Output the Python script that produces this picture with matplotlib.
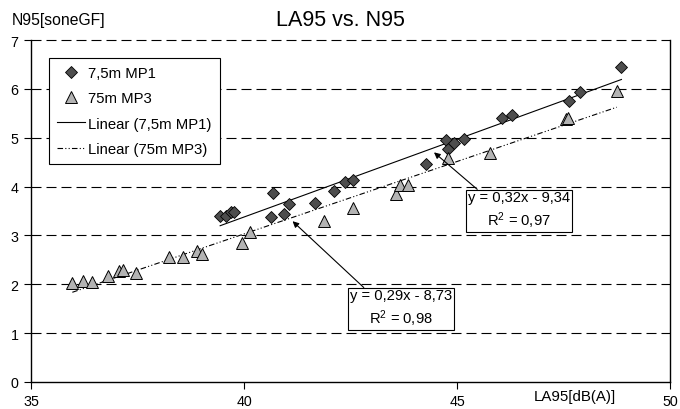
import numpy as np
import matplotlib
matplotlib.use('Agg')
import matplotlib.pyplot as plt

plt.rcParams['font.family'] = ['Liberation Sans', 'DejaVu Sans']
plt.rcParams['font.size'] = 10
plt.rcParams['mathtext.fontset'] = 'custom'
plt.rcParams['mathtext.rm'] = 'Liberation Sans'
plt.rcParams['mathtext.it'] = 'Liberation Sans:italic'

# 7,5m MP1 (diamonds)
mp1_x = [39.44, 39.58, 39.70, 39.76, 40.64, 40.69, 40.95, 41.05, 41.67, 42.12, 42.37,
         42.57, 44.27, 44.75, 44.79, 44.93, 45.16, 46.05, 46.30, 47.62, 47.89, 48.86]
mp1_y = [3.40, 3.40, 3.47, 3.47, 3.37, 3.86, 3.44, 3.64, 3.67, 3.90, 4.10,
         4.13, 4.47, 4.95, 4.76, 4.90, 4.97, 5.40, 5.46, 5.75, 5.94, 6.44]

# 75m MP3 (triangles)
mp3_x = [35.97, 36.21, 36.44, 36.81, 37.07, 37.15, 37.46, 38.23, 38.57, 38.90, 39.02, 39.96,
         40.15, 41.88, 42.56, 43.56, 43.66, 43.85, 44.80, 45.77, 47.55, 47.60, 48.75]
mp3_y = [2.02, 2.06, 2.04, 2.16, 2.28, 2.29, 2.22, 2.56, 2.56, 2.69, 2.62, 2.84,
         3.06, 3.30, 3.56, 3.85, 4.03, 4.04, 4.59, 4.68, 5.38, 5.40, 5.96]

eq_mp1 = 'y = 0,32x - 9,34\nR$^{2}$ = 0,97'
eq_mp3 = 'y = 0,29x - 8,73\nR$^{2}$ = 0,98'

fig = plt.figure(figsize=(6.8, 4.1), dpi=100)
ax = fig.add_axes([0.0456, 0.066, 0.9397, 0.834])

# dashed horizontal grid
for yy in range(1, 8):
    ax.axhline(yy, color='black', lw=0.8, ls=(0, (9, 4.5)), clip_on=False, zorder=1)

ax.plot(mp1_x, mp1_y, 'D', ms=6.5, mfc='#4d4d4d', mec='black', mew=0.6, zorder=3,
        label='7,5m MP1')
ax.plot(mp3_x, mp3_y, '^', ms=8.5, mfc='#b3b3b3', mec='black', mew=0.7, zorder=3,
        label='75m MP3')

# linear trendlines (least squares)
p1 = np.polyfit(mp1_x, mp1_y, 1)
xx1 = np.array([min(mp1_x), max(mp1_x)])
ax.plot(xx1, np.polyval(p1, xx1), color='black', lw=0.8, zorder=2,
        label='Linear (7,5m MP1)')
p3 = np.polyfit(mp3_x, mp3_y, 1)
xx3 = np.array([min(mp3_x), max(mp3_x)])
ax.plot(xx3, np.polyval(p3, xx3), color='black', lw=0.8, zorder=2,
        ls=(0, (5, 2, 1, 2, 1, 2)), label='Linear (75m MP3)')

bbox = dict(boxstyle='square,pad=0.15', fc='white', ec='black', lw=0.8)
arr = dict(arrowstyle='-|>', color='black', lw=0.8, mutation_scale=9, shrinkA=0, shrinkB=0)
ax.annotate(eq_mp1, xy=(44.46, 4.70), xytext=(46.45, 3.52), ha='center', va='center',
            multialignment='center', bbox=bbox, zorder=4, fontsize=10.6, linespacing=1.35,
            arrowprops=dict(arr, relpos=(0.1, 1.0)))
ax.annotate(eq_mp3, xy=(41.14, 3.29), xytext=(43.69, 1.51), ha='center', va='center',
            multialignment='center', bbox=bbox, zorder=4, fontsize=10.6, linespacing=1.35,
            arrowprops=dict(arr, relpos=(0.14, 1.0)))

ax.set_xlim(35, 50)
ax.set_ylim(0, 7)
ax.set_xticks([35, 40, 45, 50])
ax.set_yticks(range(0, 8))
ax.tick_params(direction='out', length=5, width=0.8, labelsize=10.3, pad=4)
ax.spines['top'].set_visible(False)
for s in ['left', 'bottom', 'right']:
    ax.spines[s].set_linewidth(1.0)

fig.text(0.5, 0.95, 'LA95 vs. N95', ha='center', va='center', fontsize=15.5)
fig.text(0.017, 0.95, 'N95[soneGF]', ha='left', va='center', fontsize=11.3)
fig.text(0.846, 0.032, 'LA95[dB(A)]', ha='center', va='center', fontsize=10.8)

leg = ax.legend(loc='upper left', bbox_to_anchor=(0.028, 0.947), borderaxespad=0,
                numpoints=1, fancybox=False, edgecolor='black', framealpha=1,
                prop={'size': 10.7}, handlelength=1.9, handletextpad=0.2,
                labelspacing=0.75, borderpad=0.55)
leg.get_frame().set_linewidth(0.8)

fig.savefig('out.png', dpi=100)
